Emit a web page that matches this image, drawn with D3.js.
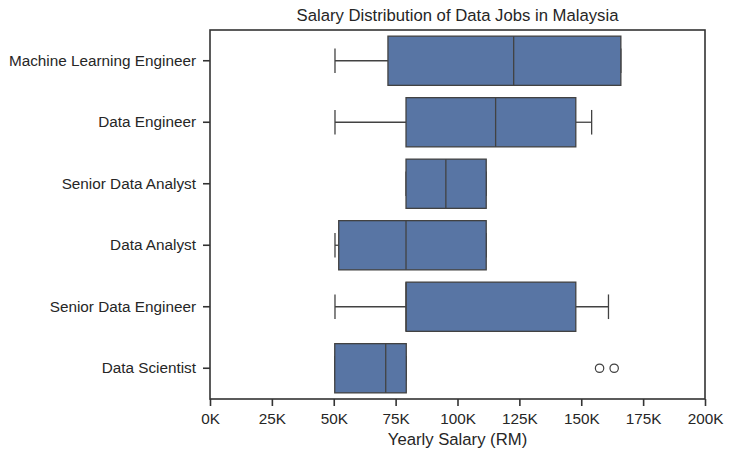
<!DOCTYPE html>
<html>
<head>
<meta charset="utf-8">
<script src="https://cdn.jsdelivr.net/npm/d3@7"></script>
<style>
  body { margin: 0; background: #fff; }
  text { font-family: "Liberation Sans", Arial, sans-serif; fill: #262626; }
</style>
</head>
<body>
<svg id="chart" width="733" height="457"></svg>
<script>
// job titles, top to bottom
var jobs = ["Machine Learning Engineer", "Data Engineer", "Senior Data Analyst",
            "Data Analyst", "Senior Data Engineer", "Data Scientist"];
// five-number summaries (thousand RM)
var whiskerLow = [50.5, 50.5, 79.2, 50.5, 50.5, 50.4];
var q1Values = [71.9, 79.2, 79.2, 52.0, 79.2, 50.4];
var medians = [122.7, 115.4, 95.3, 79.2, 79.2, 71.0];
var q3Values = [166.0, 147.8, 111.6, 111.6, 147.8, 79.3];
var whiskerHigh = [166.0, 154.2, 111.6, 111.6, 161.0, 79.3];
// outliers: [job index, value]
var outliers = [[5, 157.4], [5, 163.3]];
var xTicks = [0, 25, 50, 75, 100, 125, 150, 175, 200];

var margin = {top: 30, right: 28, bottom: 58, left: 210};
var width = 733, height = 457;

var svg = d3.select("#chart");

var x = d3.scaleLinear()
    .domain([0, 200])
    .range([margin.left, width - margin.right]);

var y = d3.scaleBand()
    .domain(jobs)
    .range([margin.top, height - margin.bottom])
    .paddingInner(0.2)
    .paddingOuter(0.1);

var boxFill = "#5875a4";
var lineColor = "#424242";
var bh = y.bandwidth();

var rows = jobs.map(function(d, i) {
  return {job: d, lo: whiskerLow[i], q1: q1Values[i], med: medians[i], q3: q3Values[i], hi: whiskerHigh[i]};
});

var g = svg.append("g");

var row = g.selectAll(".row")
    .data(rows)
  .enter().append("g")
    .attr("class", "row");

// whiskers
row.append("line")
    .attr("x1", function(d) { return x(d.lo); })
    .attr("x2", function(d) { return x(d.q1); })
    .attr("y1", function(d) { return y(d.job) + bh / 2; })
    .attr("y2", function(d) { return y(d.job) + bh / 2; })
    .attr("stroke", lineColor).attr("stroke-width", 1.3);
row.append("line")
    .attr("x1", function(d) { return x(d.q3); })
    .attr("x2", function(d) { return x(d.hi); })
    .attr("y1", function(d) { return y(d.job) + bh / 2; })
    .attr("y2", function(d) { return y(d.job) + bh / 2; })
    .attr("stroke", lineColor).attr("stroke-width", 1.3);
// caps
["lo", "hi"].forEach(function(k) {
  row.append("line")
      .attr("x1", function(d) { return x(d[k]); })
      .attr("x2", function(d) { return x(d[k]); })
      .attr("y1", function(d) { return y(d.job) + bh * 0.25; })
      .attr("y2", function(d) { return y(d.job) + bh * 0.75; })
      .attr("stroke", lineColor).attr("stroke-width", 1.3);
});

// boxes
row.append("rect")
    .attr("x", function(d) { return x(d.q1); })
    .attr("width", function(d) { return x(d.q3) - x(d.q1); })
    .attr("y", function(d) { return y(d.job); })
    .attr("height", bh)
    .attr("fill", boxFill)
    .attr("stroke", lineColor).attr("stroke-width", 1.3);

// medians
row.append("line")
    .attr("x1", function(d) { return x(d.med); })
    .attr("x2", function(d) { return x(d.med); })
    .attr("y1", function(d) { return y(d.job); })
    .attr("y2", function(d) { return y(d.job) + bh; })
    .attr("stroke", lineColor).attr("stroke-width", 1.3);

// fliers
g.selectAll(".flier")
    .data(outliers)
  .enter().append("circle")
    .attr("class", "flier")
    .attr("cx", function(d) { return x(d[1]); })
    .attr("cy", function(d) { return y(jobs[d[0]]) + bh / 2; })
    .attr("r", 4.2)
    .attr("fill", "none")
    .attr("stroke", lineColor).attr("stroke-width", 1.2);

// frame
svg.append("rect")
    .attr("x", margin.left)
    .attr("y", margin.top)
    .attr("width", width - margin.right - margin.left)
    .attr("height", height - margin.bottom - margin.top)
    .attr("fill", "none")
    .attr("stroke", "#333")
    .attr("stroke-width", 1.6);

// axes
var xAxis = svg.append("g")
    .attr("transform", "translate(0," + (height - margin.bottom) + ")")
    .call(d3.axisBottom(x).tickValues(xTicks).tickFormat(function(d) { return d + "K"; }).tickSize(7).tickPadding(7));
var yAxis = svg.append("g")
    .attr("transform", "translate(" + margin.left + ",0)")
    .call(d3.axisLeft(y).tickSize(7).tickPadding(7));

[xAxis, yAxis].forEach(function(a) {
  a.select(".domain").remove();
  a.selectAll(".tick line").attr("stroke", "#333").attr("stroke-width", 1.6);
  a.selectAll(".tick text").attr("font-size", 15.3).attr("fill", "#262626")
    .attr("font-family", "Liberation Sans, Arial, sans-serif");
});

svg.append("text")
    .attr("x", (margin.left + width - margin.right) / 2)
    .attr("y", 21)
    .attr("text-anchor", "middle")
    .attr("font-size", 16.7)
    .text("Salary Distribution of Data Jobs in Malaysia");

svg.append("text")
    .attr("x", (margin.left + width - margin.right) / 2)
    .attr("y", 445)
    .attr("text-anchor", "middle")
    .attr("font-size", 16.7)
    .text("Yearly Salary (RM)");
</script>
</body>
</html>
